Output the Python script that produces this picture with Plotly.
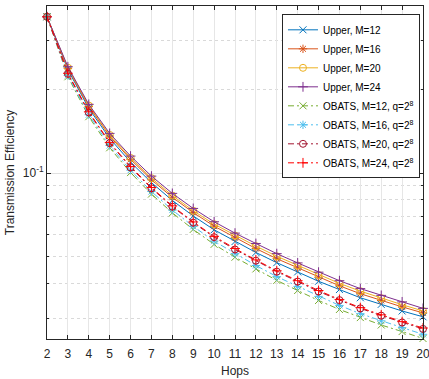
import plotly.graph_objects as go

hops = list(range(2, 21))

upper_m12 = [0.3649, 0.2353, 0.1709, 0.1333, 0.1095, 0.0924, 0.0797, 0.0701, 0.0625, 0.0567,
             0.0518, 0.0476, 0.0441, 0.0408, 0.0381, 0.0356, 0.0337, 0.0319, 0.0304]
upper_m16 = [0.3649, 0.2379, 0.1735, 0.1358, 0.1120, 0.0946, 0.0818, 0.0721, 0.0644, 0.0585,
             0.0535, 0.0492, 0.0456, 0.0422, 0.0393, 0.0368, 0.0348, 0.0330, 0.0314]
upper_m20 = [0.3649, 0.2394, 0.1750, 0.1372, 0.1134, 0.0959, 0.0830, 0.0732, 0.0655, 0.0596,
             0.0546, 0.0502, 0.0465, 0.0430, 0.0401, 0.0376, 0.0355, 0.0336, 0.0319]
upper_m24 = [0.3649, 0.2412, 0.1767, 0.1389, 0.1151, 0.0975, 0.0845, 0.0746, 0.0668, 0.0608,
             0.0558, 0.0513, 0.0475, 0.0440, 0.0410, 0.0384, 0.0363, 0.0344, 0.0326]
obats_m12 = [0.3649, 0.2220, 0.1595, 0.1233, 0.1004, 0.0840, 0.0719, 0.0627, 0.0554, 0.0498,
             0.0452, 0.0411, 0.0378, 0.0348, 0.0323, 0.0302, 0.0284, 0.0269, 0.0254]
obats_m16 = [0.3649, 0.2246, 0.1621, 0.1256, 0.1024, 0.0858, 0.0736, 0.0643, 0.0569, 0.0513,
             0.0465, 0.0424, 0.0391, 0.0360, 0.0334, 0.0312, 0.0294, 0.0278, 0.0263]
obats_m20 = [0.3649, 0.2275, 0.1652, 0.1281, 0.1048, 0.0881, 0.0757, 0.0663, 0.0588, 0.0531,
             0.0484, 0.0442, 0.0407, 0.0375, 0.0349, 0.0326, 0.0307, 0.0290, 0.0275]
obats_m24 = [0.3649, 0.2286, 0.1661, 0.1289, 0.1055, 0.0887, 0.0762, 0.0667, 0.0592, 0.0535,
             0.0487, 0.0445, 0.0410, 0.0378, 0.0351, 0.0328, 0.0309, 0.0292, 0.0277]

names = ["Upper, M=12", "Upper, M=16", "Upper, M=20", "Upper, M=24",
         "OBATS, M=12, q=2<sup>8</sup>", "OBATS, M=16, q=2<sup>8</sup>",
         "OBATS, M=20, q=2<sup>8</sup>", "OBATS, M=24, q=2<sup>8</sup>"]
series = [upper_m12, upper_m16, upper_m20, upper_m24,
          obats_m12, obats_m16, obats_m20, obats_m24]
colors = ["#0072BD", "#D95319", "#EDB120", "#7E2F8E",
          "#77AC30", "#4DBEEE", "#A2142F", "#FF0000"]
symbols = ["x-thin-open", "asterisk-open", "circle-open", "cross-thin-open",
           "x-thin-open", "asterisk-open", "circle-open", "cross-thin-open"]
dashes = ["solid"] * 4 + ["6px,3px,2px,3px"] * 4

fig = go.Figure()
for nm, ys, c, s, d in zip(names, series, colors, symbols, dashes):
    fig.add_trace(go.Scatter(
        x=hops, y=ys, name=nm, mode="lines+markers",
        line=dict(color=c, width=1, dash=d),
        marker=dict(symbol=s, size=7, color=c, line=dict(color=c, width=1)),
        cliponaxis=False,
    ))

axis_col = "#262626"
fig.update_layout(
    width=429, height=379,
    margin=dict(l=47, r=6, t=6, b=40, autoexpand=False),
    paper_bgcolor="white", plot_bgcolor="white",
    font=dict(family="Liberation Sans, Arial, sans-serif", size=11, color=axis_col),
    showlegend=True,
    legend=dict(
        x=0.992, y=0.975, xanchor="right", yanchor="top",
        bgcolor="white", bordercolor=axis_col, borderwidth=1,
        font=dict(size=10, color="#000000"),
        tracegroupgap=0, itemwidth=30,
    ),
)
fig.update_xaxes(
    range=[2, 20], tickmode="array", tickvals=hops, automargin=False,
    ticklabeloverflow="allow", ticklabelstandoff=4,
    tickfont=dict(size=12),
    ticks="inside", ticklen=4, tickcolor=axis_col,
    showline=True, linecolor=axis_col, linewidth=1, mirror="ticks",
    showgrid=True, gridcolor="#E6E6E6", gridwidth=1, zeroline=False,
    title=dict(text="Hops", standoff=6, font=dict(size=12)),
)
fig.update_yaxes(
    type="log", range=[-1.597, -0.399], automargin=False,
    ticklabeloverflow="allow",
    tickfont=dict(size=12),
    tickmode="array", tickvals=[0.1], ticktext=["10<sup>-1</sup>"],
    ticks="inside", ticklen=4, tickcolor=axis_col,
    showline=True, linecolor=axis_col, linewidth=1, mirror="ticks",
    showgrid=True, gridcolor="#E0E0E0", gridwidth=1, zeroline=False,
    minor=dict(tickmode="array", tickvals=[0.03, 0.04, 0.05, 0.06, 0.07, 0.08, 0.09, 0.2, 0.3],
               ticks="inside", ticklen=2, tickcolor=axis_col,
               showgrid=True, gridcolor="#D9D9D9", griddash="dot", gridwidth=1),
    title=dict(text="Transmission Efficiency", standoff=5, font=dict(size=12)),
)

fig.write_html("out.html", config={"displayModeBar": False},
               post_script="document.body.style.margin='0';")
